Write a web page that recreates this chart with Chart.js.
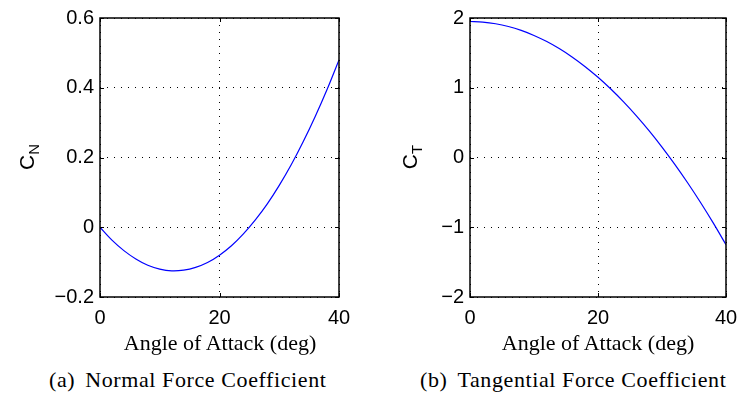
<!DOCTYPE html>
<html>
<head>
<meta charset="utf-8">
<script src="https://cdn.jsdelivr.net/npm/chart.js@4.4.0/dist/chart.umd.min.js"></script>
<style>
  html, body { margin: 0; padding: 0; background: #fff; overflow: hidden; }
  #page { position: relative; width: 737px; height: 393px; overflow: hidden; }
  .cv { position: absolute; top: 0; }
  .ytitle { position: absolute; font-family: "Liberation Sans", Arial, sans-serif; font-size: 21px; color: #000;
            transform: translate(-50%, -50%) rotate(-90deg); white-space: nowrap; }
  .ytitle sub { font-size: 15px; vertical-align: -5px; }
  .xtitle { position: absolute; font-family: "Liberation Serif", "DejaVu Serif", serif; color: #000;
            font-size: 22px; transform: translate(-50%, -50%); white-space: nowrap; }
  .caption { position: absolute; font-family: "Liberation Serif", "DejaVu Serif", serif; color: #000;
             font-size: 22px; letter-spacing: 0.6px; transform: translateY(-50%); white-space: nowrap; }
  .caption span { margin-left: 10px; }
</style>
</head>
<body>
<div id="page">
  <div class="cv" style="left:0;width:370px;height:335px;"><canvas id="chartN"></canvas></div>
  <div class="cv" style="left:370px;width:400px;height:335px;"><canvas id="chartT"></canvas></div>
  <div class="ytitle" style="left:28px;top:157px;">C<sub>N</sub></div>
  <div class="ytitle" style="left:411px;top:157px;">C<sub>T</sub></div>
  <div class="xtitle" style="left:220px;top:343px;">Angle of Attack (deg)</div>
  <div class="xtitle" style="left:598px;top:343px;">Angle of Attack (deg)</div>
  <div class="caption" style="left:49px;top:380px;">(a)<span>Normal Force Coefficient</span></div>
  <div class="caption" style="left:420px;top:380px;">(b)<span>Tangential Force Coefficient</span></div>
</div>
<script>
// Angle of attack samples (deg)
const angles = [0, 2, 4, 6, 8, 10, 12, 14, 16, 18, 20, 22, 24, 26, 28, 30, 32, 34, 36, 38, 40];

// Normal force coefficient
const normalCoef = [0, -0.037, -0.067, -0.091, -0.109, -0.120, -0.125, -0.123, -0.115, -0.101, -0.080,
                    -0.053, -0.019, 0.021, 0.067, 0.120, 0.179, 0.245, 0.317, 0.395, 0.480];

// Tangential force coefficient
const tangentialCoef = [1.950, 1.942, 1.918, 1.878, 1.822, 1.750, 1.662, 1.558, 1.438, 1.302, 1.150,
                        0.982, 0.798, 0.598, 0.382, 0.150, -0.098, -0.362, -0.642, -0.938, -1.250];

// Tick values
const xTicks = [0, 20, 40];
const yTicksN = [-0.2, 0, 0.2, 0.4, 0.6];
const yTicksT = [-2, -1, 0, 1, 2];

const tickFont = { family: '"Liberation Sans", Arial, sans-serif', size: 20 };

// Draws the closed axes box and inward tick marks (MATLAB style)
const boxPlugin = {
    id: 'boxPlugin',
    afterDraw(chart) {
        const { ctx, chartArea: a, scales } = chart;
        ctx.save();
        ctx.strokeStyle = '#000';
        ctx.lineWidth = 1;
        const len = 4;
        scales.x.ticks.forEach(t => {
            const px = Math.round(scales.x.getPixelForValue(t.value)) + 0.5;
            ctx.beginPath();
            ctx.moveTo(px, a.bottom); ctx.lineTo(px, a.bottom - len);
            ctx.moveTo(px, a.top); ctx.lineTo(px, a.top + len);
            ctx.stroke();
        });
        scales.y.ticks.forEach(t => {
            const py = Math.round(scales.y.getPixelForValue(t.value)) + 0.5;
            ctx.beginPath();
            ctx.moveTo(a.left, py); ctx.lineTo(a.left + len, py);
            ctx.moveTo(a.right, py); ctx.lineTo(a.right - len, py);
            ctx.stroke();
        });
        ctx.lineWidth = 1.5;
        ctx.strokeRect(a.left, a.top, a.right - a.left, a.bottom - a.top);
        ctx.restore();
    }
};

function makeChart(id, values, yMin, yMax, yTicks, padRight) {
    const ctx = document.getElementById(id).getContext('2d');
    return new Chart(ctx, {
        type: 'line',
        data: {
            datasets: [{
                data: angles.map((a, i) => ({ x: a, y: values[i] })),
                borderColor: '#0000ff',
                borderWidth: 1.2,
                pointRadius: 0,
                tension: 0.3,
                fill: false
            }]
        },
        options: {
            responsive: true,
            maintainAspectRatio: false,
            animation: false,
            layout: { padding: { top: 15, right: padRight, left: 0, bottom: 0 } },
            plugins: { legend: { display: false }, tooltip: { enabled: false } },
            scales: {
                x: {
                    type: 'linear', min: 0, max: 40,
                    afterBuildTicks: s => { s.ticks = xTicks.map(v => ({ value: v })); },
                    afterFit: s => { s.height = 38; },
                    ticks: { font: tickFont, color: '#000', padding: 9, maxRotation: 0 },
                    grid: { color: '#000', lineWidth: 1, drawTicks: false },
                    border: { display: false, dash: [1, 6] }
                },
                y: {
                    type: 'linear', min: yMin, max: yMax,
                    afterBuildTicks: s => { s.ticks = yTicks.map(v => ({ value: v })); },
                    afterFit: s => { s.width = 100; },
                    ticks: {
                        font: tickFont, color: '#000', padding: 6,
                        callback: v => (v < 0 ? '\u2212' + String(-v) : String(v))
                    },
                    grid: { color: '#000', lineWidth: 1, drawTicks: false },
                    border: { display: false, dash: [1, 6] }
                }
            }
        },
        plugins: [boxPlugin]
    });
}

makeChart('chartN', normalCoef, -0.2, 0.6, yTicksN, 31);
makeChart('chartT', tangentialCoef, -2, 2, yTicksT, 44);
</script>
</body>
</html>
